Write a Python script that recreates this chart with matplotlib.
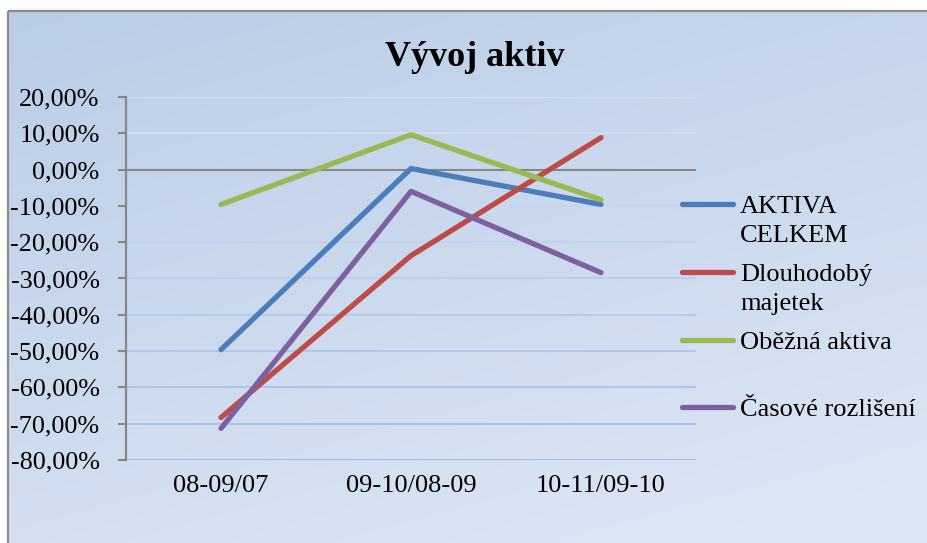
import numpy as np
import matplotlib
matplotlib.use("Agg")
import matplotlib.pyplot as plt
from matplotlib.lines import Line2D
from matplotlib.colors import to_rgb

# Data (year-on-year change of assets, %)
categories = ["08-09/07", "09-10/08-09", "10-11/09-10"]
aktiva_celkem = [-49.6, 0.3, -9.6]
dlouhodoby_majetek = [-68.3, -23.7, 8.8]
obezna_aktiva = [-9.6, 9.6, -8.3]
casove_rozliseni = [-71.3, -6.0, -28.4]
series_names = ["AKTIVA\nCELKEM", "Dlouhodobý\nmajetek", "Oběžná aktiva", "Časové rozlišení"]
series_values = [aktiva_celkem, dlouhodoby_majetek, obezna_aktiva, casove_rozliseni]
series_colors = ["#4A7EBB", "#BE4B48", "#98B954", "#7D60A0"]
y_ticks = list(range(-80, 21, 10))

W, H, DPI = 927, 543, 100
plt.rcParams["font.family"] = ["Liberation Serif", "DejaVu Serif"]

fig = plt.figure(figsize=(W / DPI, H / DPI), dpi=DPI)
fig.patch.set_facecolor("white")

def fx(px):
    return px / W

def fy(py):
    return 1 - py / H

# Chart area gradient background with border
bg = fig.add_axes([fx(8), 0, 1 - fx(8), fy(11)])
bg.set_axis_off()
nx, ny = 200, 120
xx, yy = np.meshgrid(np.linspace(0, 1, nx), np.linspace(0, 1, ny))
t = np.clip(0.35 * xx + 0.75 * yy, 0, 1)
c0 = np.array(to_rgb("#BACDE7"))
c1 = np.array(to_rgb("#DCE5F4"))
img = c0[None, None, :] * (1 - t[..., None]) + c1[None, None, :] * t[..., None]
bg.imshow(img, aspect="auto", extent=[0, 1, 1, 0], interpolation="bilinear")
bg.set_xlim(0, 1)
bg.set_ylim(1, 0)
fig.add_artist(Line2D([fx(8), fx(8)], [fy(11), 0], color="#8C8C8C", lw=1.6,
                      solid_capstyle="butt"))
fig.add_artist(Line2D([fx(8), 1], [fy(11), fy(11)], color="#8C8C8C", lw=1.6,
                      solid_capstyle="butt"))

# Plot area
ax = fig.add_axes([fx(126), fy(460), fx(696) - fx(126), fy(97) - fy(460)])
ax.patch.set_alpha(0)
x = np.arange(1, len(categories) + 1)
ax.set_xlim(0.5, len(categories) + 0.5)
ax.set_ylim(-80, 20)

# Horizontal gridlines
g_top = np.array(to_rgb("#D6E1F2"))
g_bot = np.array(to_rgb("#A3BDE6"))
for v in y_ticks:
    if v == 0:
        continue
    f = (20 - v) / 100
    ax.axhline(v, color=tuple(g_top * (1 - f) + g_bot * f), lw=1.4, zorder=1)
ax.axhline(0, color="#878787", lw=1.5, zorder=2)

for vals, col in zip(series_values, series_colors):
    ax.plot(x, vals, color=col, lw=3.8, solid_capstyle="round",
            solid_joinstyle="round", zorder=3)

for s in ["top", "right", "bottom"]:
    ax.spines[s].set_visible(False)
ax.spines["left"].set_color("#878787")
ax.spines["left"].set_linewidth(1.6)

ax.set_yticks(y_ticks)
ax.set_yticklabels([f"{v:.2f}".replace(".", ",") + "%" for v in y_ticks])
ax.tick_params(axis="y", direction="out", length=6, width=1.5, color="#878787",
               pad=13, labelsize=18.8)
ax.set_xticks(x)
ax.set_xticklabels(categories)
ax.tick_params(axis="x", length=0, pad=11, labelsize=19)

# Title
fig.text(fx(475), fy(57), "Vývoj aktiv", ha="center", va="center",
         fontsize=26, fontweight="bold")

# Legend
leg_y = [204, 272, 340, 407]
for name, col, py in zip(series_names, series_colors, leg_y):
    fig.add_artist(Line2D([fx(682), fx(733)], [fy(py), fy(py)], color=col,
                          lw=3.8, solid_capstyle="round"))
    fig.text(fx(740), fy(py - 8), name, ha="left", va="top",
             fontsize=19, linespacing=1.4)

fig.savefig("out.png", dpi=DPI)
